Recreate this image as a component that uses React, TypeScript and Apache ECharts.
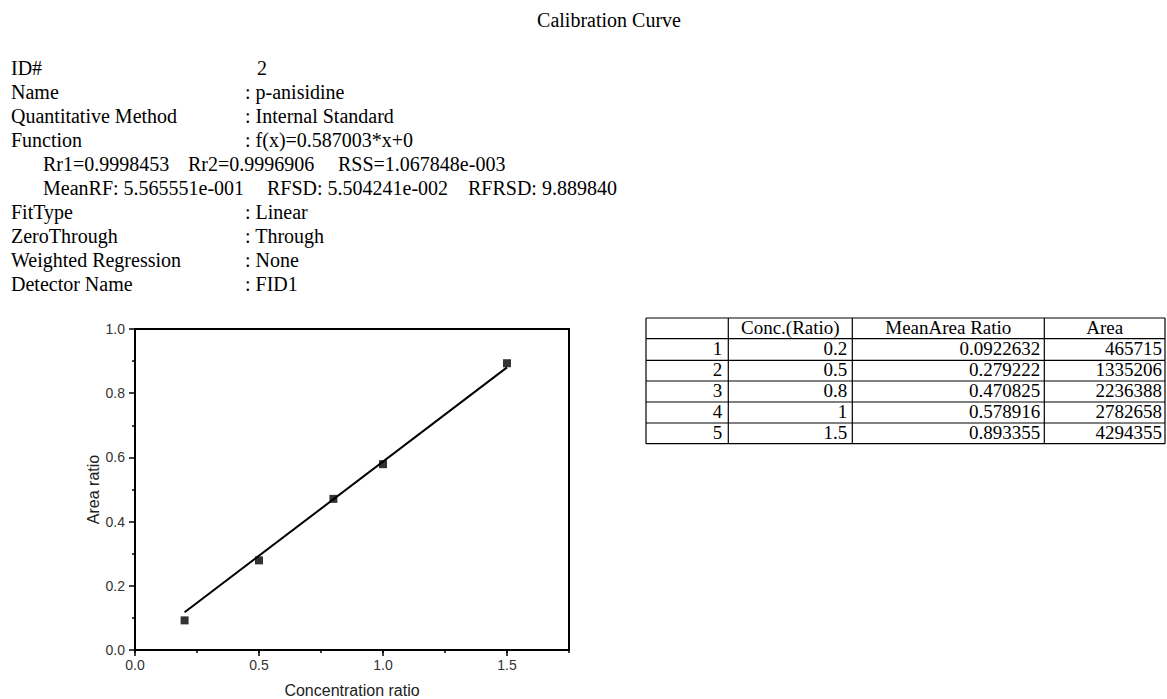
import React, { useEffect, useRef } from "react";
import * as echarts from "echarts";

// ---- data ----
const sampleIndex = [1, 2, 3, 4, 5];
const concRatio = [0.2, 0.5, 0.8, 1, 1.5];
const meanAreaRatio = [0.0922632, 0.279222, 0.470825, 0.578916, 0.893355];
const areaValues = [465715, 1335206, 2236388, 2782658, 4294355];
const fitLineX = [0.2, 1.5];
const fitLineY = [0.1174, 0.8805];
const xTickLabels = ["0.0", "0.5", "1.0", "1.5"];
const tableHeaders = ["", "Conc.(Ratio)", "MeanArea Ratio", "Area"];

const titleText = "Calibration Curve";
const infoLabels = [
  "ID#",
  "Name",
  "Quantitative Method",
  "Function",
  "",
  "",
  "FitType",
  "ZeroThrough",
  "Weighted Regression",
  "Detector Name",
];
const infoValues = [
  "2",
  ": p-anisidine",
  ": Internal Standard",
  ": f(x)=0.587003*x+0",
  "",
  "",
  ": Linear",
  ": Through",
  ": None",
  ": FID1",
];
const statsLine1 = ["Rr1=0.9998453", "Rr2=0.9996906", "RSS=1.067848e-003"];
const statsLine2 = ["MeanRF: 5.565551e-001", "RFSD: 5.504241e-002", "RFRSD: 9.889840"];

// ---- layout ----
const SERIF = "'Liberation Serif', 'Times New Roman', serif";
const SANS = "'Liberation Sans', Arial, sans-serif";
const colX = [646, 728.3, 852.3, 1044.3, 1165];
const rowY = [318, 338.7, 360.3, 381, 402, 423, 443.7];
const GRID = { left: 135, top: 329, width: 434, height: 321 };

export default function App() {
  const ref = useRef<HTMLDivElement>(null);
  useEffect(() => {
    if (!ref.current) return;
    const chart = echarts.init(ref.current, undefined, { renderer: "svg" });

    const graphics: any[] = [];
    graphics.push({
      type: "text",
      x: 609,
      y: 20,
      style: { text: titleText, font: `20px ${SERIF}`, fill: "#000", textAlign: "center", textVerticalAlign: "middle" },
    });
    infoLabels.forEach((t, i) => {
      const y = 67.5 + i * 24;
      if (t) {
        graphics.push({ type: "text", x: 11, y, style: { text: t, font: `20px ${SERIF}`, fill: "#000", textVerticalAlign: "middle" } });
      }
      const v = infoValues[i];
      if (v) {
        graphics.push({ type: "text", x: v.startsWith(":") ? 245 : 257, y, style: { text: v, font: `20px ${SERIF}`, fill: "#000", textVerticalAlign: "middle" } });
      }
    });
    const s1x = [43, 188, 338];
    statsLine1.forEach((t, i) =>
      graphics.push({ type: "text", x: s1x[i], y: 67.5 + 4 * 24, style: { text: t, font: `20px ${SERIF}`, fill: "#000", textVerticalAlign: "middle" } })
    );
    const s2x = [43, 267, 468];
    statsLine2.forEach((t, i) =>
      graphics.push({ type: "text", x: s2x[i], y: 67.5 + 5 * 24, style: { text: t, font: `20px ${SERIF}`, fill: "#000", textVerticalAlign: "middle" } })
    );

    // plot frame (top & right borders)
    graphics.push({
      type: "rect",
      z: 100,
      shape: { x: GRID.left, y: GRID.top - 1, width: GRID.width + 1, height: 2 },
      style: { fill: "#000" },
    });
    graphics.push({
      type: "rect",
      z: 100,
      shape: { x: GRID.left + GRID.width - 1, y: GRID.top - 1, width: 2, height: GRID.height + 1 },
      style: { fill: "#000" },
    });

    // table grid lines
    rowY.forEach((y) =>
      graphics.push({ type: "line", shape: { x1: colX[0], y1: y, x2: colX[colX.length - 1], y2: y }, style: { stroke: "#000", lineWidth: 1.2 } })
    );
    colX.forEach((x) =>
      graphics.push({ type: "line", shape: { x1: x, y1: rowY[0], x2: x, y2: rowY[rowY.length - 1] }, style: { stroke: "#000", lineWidth: 1.2 } })
    );
    tableHeaders.forEach((h, c) => {
      if (!h) return;
      graphics.push({
        type: "text",
        x: (colX[c] + colX[c + 1]) / 2,
        y: (rowY[0] + rowY[1]) / 2 - 0.5,
        style: { text: h, font: `19px ${SERIF}`, fill: "#000", textAlign: "center", textVerticalAlign: "middle" },
      });
    });
    sampleIndex.forEach((idx, r) => {
      const cells = [String(idx), String(concRatio[r]), String(meanAreaRatio[r]), String(areaValues[r])];
      const pad = [6, 5, 4, 3];
      cells.forEach((txt, c) => {
        graphics.push({
          type: "text",
          x: colX[c + 1] - pad[c],
          y: (rowY[r + 1] + rowY[r + 2]) / 2 - 1,
          style: { text: txt, font: `19px ${SERIF}`, fill: "#000", textAlign: "right", textVerticalAlign: "middle" },
        });
      });
    });

    const axisLine = { show: true, onZero: false, lineStyle: { color: "#000", width: 2 } };
    const labelStyle = { fontFamily: SANS, fontSize: 14, color: "#333" };

    chart.setOption({
      animation: false,
      backgroundColor: "#fff",
      grid: { ...GRID, show: false },
      xAxis: [
        {
          type: "value",
          position: "bottom",
          min: 0,
          max: 1.75,
          interval: 0.5,
          axisLine,
          axisTick: { show: true, inside: false, length: 6, lineStyle: { color: "#000", width: 1.5 } },
          axisLabel: {
            ...labelStyle,
            margin: 8,
            showMaxLabel: false,
            formatter: (v: number) => {
              const i = Math.round(v / 0.5);
              return Math.abs(v - i * 0.5) < 1e-6 && i < xTickLabels.length ? xTickLabels[i] : "";
            },
          },
          splitLine: { show: false },
          name: "Concentration ratio",
          nameLocation: "middle",
          nameGap: 32,
          nameTextStyle: { fontFamily: SANS, fontSize: 16, color: "#222" },
        },
        {
          type: "value",
          position: "bottom",
          min: 0,
          max: 1.75,
          interval: 0.25,
          axisLine: { show: false, onZero: false },
          axisTick: { show: true, inside: false, length: 3, lineStyle: { color: "#000", width: 1.5 } },
          axisLabel: { show: false },
          splitLine: { show: false },
        },
      ],
      yAxis: {
        type: "value",
        position: "left",
        min: 0,
        max: 1,
        interval: 0.2,
        axisLine,
        axisTick: { show: true, inside: false, length: 6, lineStyle: { color: "#000", width: 1.5 } },
        minorTick: { show: true, splitNumber: 2, length: 3, lineStyle: { color: "#000", width: 1.5 } },
        axisLabel: { ...labelStyle, margin: 10, formatter: (v: number) => v.toFixed(1) },
        splitLine: { show: false },
        minorSplitLine: { show: false },
        name: "Area ratio",
        nameLocation: "middle",
        nameGap: 32,
        nameTextStyle: { fontFamily: SANS, fontSize: 16, color: "#222" },
      },
      series: [
        {
          type: "line",
          xAxisIndex: 0,
          data: fitLineX.map((x, i) => [x, fitLineY[i]]),
          showSymbol: false,
          symbol: "none",
          lineStyle: { color: "#000", width: 2 },
          silent: true,
        },
        {
          type: "scatter",
          xAxisIndex: 0,
          data: concRatio.map((c, i) => [c, meanAreaRatio[i]]),
          symbol: "rect",
          symbolSize: 8,
          itemStyle: { color: "#000" },
        },
      ],
      graphic: graphics,
    });
    return () => chart.dispose();
  }, []);
  return (
    <div
      ref={ref}
      style={{ position: "absolute", left: 0, top: 0, width: 1167, height: 699, background: "#fff" }}
    />
  );
}
